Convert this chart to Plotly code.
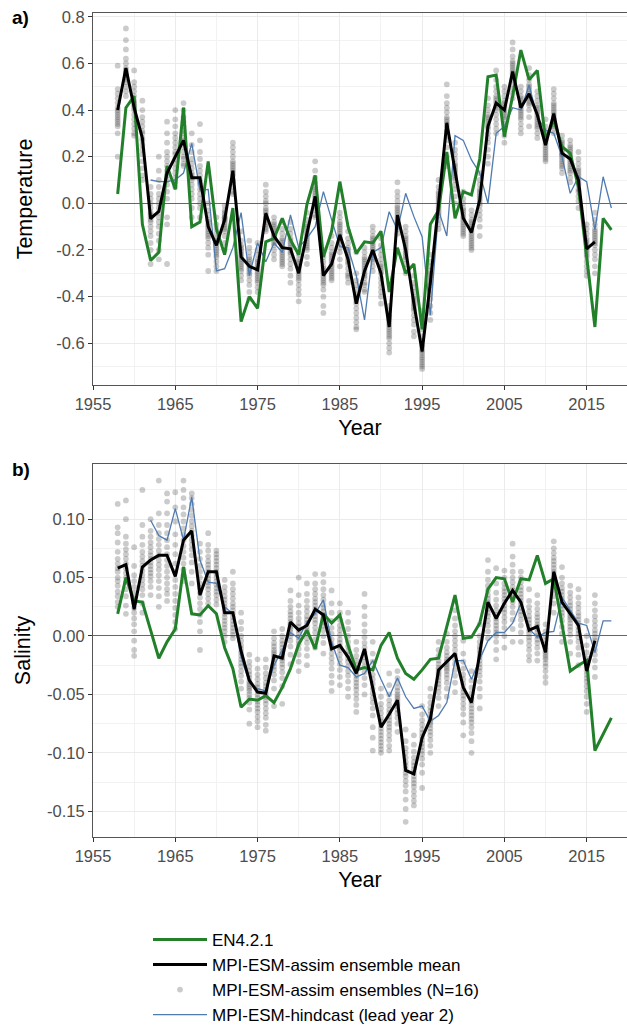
import plotly.graph_objects as go

# ---------------------------------------------------------------- data
years_obs = list(range(1958, 2019))      # EN4.2.1
years_assim = list(range(1958, 2017))    # MPI-ESM-assim
years_hind = list(range(1962, 2019))     # MPI-ESM-hindcast, lead year 2

temp_en4 = [0.04, 0.41, 0.46, -0.09, -0.245, -0.21, 0.16, 0.06, 0.41, -0.10,
            -0.08, 0.18, -0.11, -0.22, -0.02, -0.507, -0.40, -0.45, -0.165, -0.15,
            -0.064, -0.157, -0.22, -0.005, 0.12, -0.23, -0.12, 0.093, -0.10, -0.215,
            -0.165, -0.17, -0.12, -0.38, -0.19, -0.30, -0.26, -0.54, -0.09, -0.03,
            0.22, -0.064, 0.05, 0.036, 0.19, 0.543, 0.55, 0.286, 0.46, 0.657,
            0.53, 0.57, 0.27, 0.36, 0.243, 0.214, 0.07, -0.23, -0.53, -0.064, -0.114]

temp_mean = [0.40, 0.58, 0.41, 0.28, -0.065, -0.035, 0.13, 0.20, 0.27, 0.11,
             0.11, -0.10, -0.18, -0.07, 0.14, -0.23, -0.27, -0.285, -0.043, -0.14,
             -0.19, -0.195, -0.30, -0.13, 0.03, -0.31, -0.26, -0.135, -0.24, -0.43,
             -0.29, -0.20, -0.30, -0.53, -0.05, -0.20, -0.43, -0.635, -0.34, 0.0,
             0.345, 0.14, -0.064, -0.125, 0.014, 0.33, 0.43, 0.40, 0.565, 0.41,
             0.47, 0.38, 0.25, 0.385, 0.215, 0.19, 0.10, -0.195, -0.165]

temp_hind = [0.10, 0.093, 0.093, 0.10, 0.13, 0.257, 0.057, 0.06, -0.29, -0.28,
             -0.19, -0.04, -0.31, -0.17, -0.25, -0.17, -0.21, -0.05, -0.19, -0.15,
             -0.10, 0.05, -0.07, -0.186, -0.19, -0.31, -0.50, -0.21, -0.19, -0.036,
             -0.114, 0.043, -0.057, -0.143, -0.48, -0.03, -0.14, 0.29, 0.27, 0.186,
             0.13, 0.0, 0.30, 0.33, 0.41, 0.40, 0.507, 0.37, 0.314, 0.30,
             0.20, 0.043, 0.114, 0.093, -0.114, 0.114, -0.02]

# 16 ensemble members per year, 1958-2016
temp_members = [
    [0.59, 0.49, 0.47, 0.45, 0.43, 0.41, 0.40, 0.39, 0.38, 0.37, 0.36, 0.35, 0.34, 0.33, 0.30, 0.20],
    [0.75, 0.70, 0.66, 0.62, 0.60, 0.58, 0.57, 0.56, 0.55, 0.54, 0.53, 0.52, 0.50, 0.48, 0.46, 0.55],
    [0.57, 0.52, 0.50, 0.48, 0.46, 0.44, 0.43, 0.42, 0.40, 0.38, 0.36, 0.34, 0.32, 0.30, 0.29, 0.41],
    [0.44, 0.40, 0.37, 0.35, 0.33, 0.31, 0.30, 0.28, 0.27, 0.25, 0.23, 0.21, 0.18, 0.15, 0.12, 0.10],
    [0.07, 0.04, 0.02, 0.00, -0.02, -0.04, -0.05, -0.06, -0.07, -0.08, -0.10, -0.12, -0.14, -0.17, -0.20, -0.26],
    [0.20, 0.14, 0.10, 0.07, 0.04, 0.02, 0.00, -0.02, -0.04, -0.06, -0.08, -0.10, -0.13, -0.16, -0.20, -0.24],
    [0.35, 0.30, 0.26, 0.22, 0.20, 0.18, 0.16, 0.14, 0.12, 0.10, 0.08, 0.05, 0.02, -0.06, -0.09, -0.26],
    [0.40, 0.36, 0.33, 0.30, 0.28, 0.26, 0.24, 0.22, 0.21, 0.19, 0.17, 0.15, 0.13, 0.11, 0.09, 0.07],
    [0.43, 0.40, 0.37, 0.35, 0.33, 0.31, 0.30, 0.28, 0.27, 0.26, 0.24, 0.22, 0.20, 0.19, 0.17, 0.16],
    [0.30, 0.25, 0.22, 0.19, 0.17, 0.15, 0.13, 0.12, 0.11, 0.10, 0.08, 0.06, 0.04, 0.02, -0.02, -0.06],
    [0.34, 0.27, 0.22, 0.19, 0.16, 0.14, 0.12, 0.10, 0.09, 0.08, 0.06, 0.04, 0.02, 0.00, -0.02, -0.06],
    [0.00, -0.03, -0.05, -0.07, -0.08, -0.09, -0.10, -0.11, -0.12, -0.13, -0.14, -0.15, -0.17, -0.19, -0.22, -0.29],
    [-0.06, -0.09, -0.11, -0.13, -0.15, -0.16, -0.17, -0.18, -0.19, -0.20, -0.21, -0.22, -0.23, -0.25, -0.27, -0.29],
    [-0.01, -0.03, -0.04, -0.05, -0.06, -0.06, -0.07, -0.07, -0.08, -0.09, -0.10, -0.11, -0.12, -0.14, -0.17, -0.20],
    [0.26, 0.24, 0.22, 0.20, 0.18, 0.17, 0.16, 0.15, 0.14, 0.13, 0.12, 0.10, 0.09, 0.07, 0.05, 0.04],
    [-0.12, -0.16, -0.18, -0.19, -0.20, -0.21, -0.22, -0.23, -0.24, -0.25, -0.26, -0.27, -0.28, -0.29, -0.31, -0.33],
    [-0.16, -0.19, -0.21, -0.23, -0.24, -0.25, -0.26, -0.27, -0.28, -0.29, -0.30, -0.31, -0.33, -0.35, -0.38, -0.41],
    [-0.17, -0.20, -0.22, -0.24, -0.25, -0.26, -0.27, -0.28, -0.29, -0.30, -0.31, -0.32, -0.33, -0.34, -0.36, -0.38],
    [0.08, 0.05, 0.03, 0.01, 0.00, -0.02, -0.03, -0.04, -0.05, -0.06, -0.07, -0.08, -0.09, -0.10, -0.11, -0.12],
    [-0.06, -0.08, -0.09, -0.10, -0.11, -0.12, -0.13, -0.14, -0.14, -0.15, -0.16, -0.17, -0.18, -0.20, -0.22, -0.24],
    [-0.08, -0.11, -0.13, -0.15, -0.16, -0.17, -0.18, -0.19, -0.20, -0.21, -0.22, -0.23, -0.24, -0.25, -0.26, -0.27],
    [-0.08, -0.11, -0.13, -0.15, -0.16, -0.17, -0.18, -0.19, -0.20, -0.21, -0.22, -0.24, -0.26, -0.28, -0.31, -0.34],
    [-0.20, -0.22, -0.24, -0.25, -0.26, -0.27, -0.28, -0.29, -0.30, -0.31, -0.32, -0.33, -0.35, -0.37, -0.39, -0.42],
    [-0.04, -0.07, -0.09, -0.10, -0.11, -0.12, -0.13, -0.14, -0.15, -0.16, -0.17, -0.18, -0.19, -0.20, -0.23, -0.26],
    [0.18, 0.14, 0.11, 0.09, 0.07, 0.06, 0.05, 0.04, 0.03, 0.02, 0.01, 0.00, -0.01, -0.03, -0.05, -0.06],
    [-0.20, -0.23, -0.25, -0.27, -0.28, -0.29, -0.30, -0.31, -0.32, -0.33, -0.34, -0.35, -0.37, -0.40, -0.44, -0.47],
    [-0.14, -0.17, -0.19, -0.21, -0.22, -0.23, -0.24, -0.25, -0.26, -0.27, -0.28, -0.29, -0.30, -0.31, -0.32, -0.33],
    [-0.04, -0.06, -0.08, -0.09, -0.10, -0.11, -0.12, -0.13, -0.14, -0.15, -0.16, -0.17, -0.19, -0.21, -0.24, -0.27],
    [-0.12, -0.15, -0.17, -0.19, -0.20, -0.21, -0.22, -0.23, -0.24, -0.25, -0.26, -0.28, -0.30, -0.31, -0.32, -0.34],
    [-0.21, -0.30, -0.33, -0.35, -0.37, -0.39, -0.40, -0.41, -0.42, -0.43, -0.45, -0.47, -0.49, -0.51, -0.53, -0.54],
    [-0.19, -0.21, -0.23, -0.24, -0.25, -0.26, -0.27, -0.28, -0.29, -0.30, -0.31, -0.32, -0.34, -0.35, -0.37, -0.38],
    [-0.10, -0.12, -0.14, -0.15, -0.16, -0.17, -0.18, -0.19, -0.20, -0.21, -0.22, -0.23, -0.24, -0.25, -0.27, -0.29],
    [-0.15, -0.18, -0.20, -0.22, -0.24, -0.26, -0.27, -0.28, -0.29, -0.30, -0.32, -0.34, -0.36, -0.38, -0.40, -0.43],
    [-0.44, -0.46, -0.48, -0.49, -0.50, -0.51, -0.52, -0.53, -0.54, -0.55, -0.56, -0.57, -0.58, -0.60, -0.62, -0.64],
    [0.09, 0.05, 0.03, 0.01, -0.01, -0.02, -0.03, -0.04, -0.05, -0.06, -0.07, -0.08, -0.09, -0.10, -0.11, -0.13],
    [-0.10, -0.12, -0.14, -0.15, -0.16, -0.17, -0.18, -0.19, -0.20, -0.21, -0.22, -0.23, -0.24, -0.26, -0.28, -0.30],
    [-0.31, -0.34, -0.36, -0.38, -0.40, -0.41, -0.42, -0.43, -0.44, -0.45, -0.46, -0.48, -0.50, -0.52, -0.55, -0.57],
    [-0.46, -0.50, -0.54, -0.57, -0.59, -0.61, -0.62, -0.63, -0.64, -0.65, -0.66, -0.67, -0.68, -0.69, -0.70, -0.71],
    [-0.22, -0.25, -0.27, -0.29, -0.30, -0.31, -0.32, -0.33, -0.34, -0.35, -0.37, -0.39, -0.41, -0.44, -0.47, -0.50],
    [0.10, 0.07, 0.05, 0.04, 0.03, 0.02, 0.01, 0.00, -0.01, -0.02, -0.03, -0.04, -0.05, -0.07, -0.09, -0.11],
    [0.51, 0.46, 0.43, 0.41, 0.39, 0.37, 0.36, 0.35, 0.34, 0.33, 0.31, 0.29, 0.27, 0.24, 0.20, 0.16],
    [0.26, 0.23, 0.21, 0.19, 0.17, 0.16, 0.15, 0.14, 0.13, 0.12, 0.11, 0.10, 0.08, 0.06, 0.03, 0.00],
    [0.05, 0.02, 0.00, -0.02, -0.03, -0.04, -0.05, -0.06, -0.07, -0.08, -0.09, -0.10, -0.11, -0.12, -0.13, -0.14],
    [-0.03, -0.05, -0.07, -0.08, -0.09, -0.10, -0.11, -0.12, -0.13, -0.14, -0.15, -0.16, -0.17, -0.18, -0.19, -0.20],
    [0.13, 0.10, 0.08, 0.06, 0.05, 0.04, 0.03, 0.02, 0.01, 0.00, -0.01, -0.03, -0.05, -0.07, -0.10, -0.14],
    [0.45, 0.42, 0.40, 0.38, 0.37, 0.36, 0.35, 0.34, 0.33, 0.32, 0.30, 0.28, 0.26, 0.23, 0.20, 0.17],
    [0.57, 0.53, 0.50, 0.48, 0.46, 0.45, 0.44, 0.43, 0.42, 0.41, 0.40, 0.38, 0.36, 0.34, 0.32, 0.30],
    [0.50, 0.48, 0.46, 0.44, 0.43, 0.42, 0.41, 0.40, 0.39, 0.38, 0.37, 0.36, 0.34, 0.32, 0.29, 0.26],
    [0.69, 0.66, 0.63, 0.61, 0.60, 0.59, 0.58, 0.57, 0.56, 0.55, 0.54, 0.53, 0.51, 0.49, 0.47, 0.45],
    [0.50, 0.48, 0.46, 0.45, 0.44, 0.43, 0.42, 0.41, 0.40, 0.39, 0.38, 0.37, 0.36, 0.34, 0.32, 0.30],
    [0.58, 0.55, 0.53, 0.51, 0.50, 0.49, 0.48, 0.47, 0.46, 0.45, 0.44, 0.43, 0.42, 0.40, 0.37, 0.33],
    [0.48, 0.46, 0.44, 0.42, 0.41, 0.40, 0.39, 0.38, 0.37, 0.36, 0.35, 0.34, 0.33, 0.32, 0.30, 0.28],
    [0.36, 0.33, 0.31, 0.30, 0.29, 0.28, 0.27, 0.26, 0.25, 0.24, 0.23, 0.22, 0.21, 0.20, 0.19, 0.18],
    [0.49, 0.47, 0.45, 0.43, 0.42, 0.41, 0.40, 0.39, 0.38, 0.37, 0.36, 0.35, 0.34, 0.33, 0.32, 0.30],
    [0.29, 0.27, 0.26, 0.25, 0.24, 0.23, 0.22, 0.21, 0.21, 0.20, 0.19, 0.18, 0.17, 0.16, 0.15, 0.13],
    [0.27, 0.25, 0.24, 0.23, 0.22, 0.21, 0.20, 0.19, 0.18, 0.17, 0.16, 0.15, 0.14, 0.13, 0.11, 0.09],
    [0.22, 0.19, 0.17, 0.15, 0.14, 0.13, 0.12, 0.11, 0.10, 0.09, 0.08, 0.06, 0.05, 0.03, 0.01, -0.02],
    [-0.09, -0.11, -0.13, -0.15, -0.16, -0.17, -0.18, -0.19, -0.20, -0.21, -0.22, -0.23, -0.25, -0.27, -0.29, -0.31],
    [-0.04, -0.07, -0.09, -0.11, -0.12, -0.13, -0.14, -0.15, -0.16, -0.17, -0.18, -0.20, -0.22, -0.24, -0.27, -0.30],
]

sal_en4 = [0.019, 0.05, 0.03, 0.029, 0.005, -0.019, -0.005, 0.006, 0.059, 0.019,
           0.018, 0.026, 0.019, -0.01, -0.028, -0.061, -0.054, -0.055, -0.051, -0.057,
           -0.044, -0.028, -0.007, 0.005, -0.011, 0.019, 0.011, 0.018, -0.008, -0.029,
           -0.027, -0.029, -0.008, 0.003, -0.019, -0.032, -0.037, -0.029, -0.02, -0.019,
           0.008, 0.035, -0.002, -0.001, 0.011, 0.04, 0.05, 0.049, 0.029, 0.049,
           0.048, 0.069, 0.045, 0.049, 0.01, -0.03, -0.025, -0.021, -0.098, -0.084, -0.07]

sal_mean = [0.058, 0.061, 0.023, 0.059, 0.065, 0.069, 0.069, 0.051, 0.082, 0.090,
            0.035, 0.055, 0.055, 0.020, 0.020, -0.013, -0.038, -0.048, -0.049, -0.017,
            -0.019, 0.012, 0.005, 0.009, 0.023, 0.018, -0.011, -0.008, -0.018, -0.032,
            -0.011, -0.044, -0.078, -0.067, -0.055, -0.115, -0.118, -0.087, -0.071, -0.029,
            -0.022, -0.015, -0.044, -0.057, -0.015, 0.029, 0.015, 0.028, 0.039, 0.029,
            0.005, 0.008, -0.014, 0.055, 0.029, 0.019, 0.009, -0.030, -0.004]

sal_hind = [0.099, 0.086, 0.082, 0.109, 0.082, 0.119, 0.065, 0.046, 0.045, 0.025,
            0.019, -0.018, -0.040, -0.045, -0.047, -0.025, -0.012, 0.003, -0.002, 0.012,
            0.019, 0.031, -0.005, -0.025, -0.027, -0.035, -0.032, -0.021, -0.037, -0.052,
            -0.036, -0.052, -0.062, -0.060, -0.073, -0.068, -0.057, -0.021, -0.021, -0.037,
            -0.02, -0.004, 0.003, 0.003, 0.011, 0.028, 0.006, -0.001, 0.003, 0.004,
            0.033, 0.022, 0.011, 0.009, -0.014, 0.013, 0.013]

sal_members = [
    [0.113, 0.093, 0.088, 0.080, 0.072, 0.066, 0.062, 0.058, 0.055, 0.050, 0.047, 0.043, 0.038, 0.034, 0.029, 0.025],
    [0.116, 0.100, 0.085, 0.079, 0.074, 0.070, 0.066, 0.062, 0.058, 0.054, 0.050, 0.046, 0.040, 0.034, 0.026, 0.019],
    [0.076, 0.060, 0.052, 0.047, 0.042, 0.037, 0.032, 0.028, 0.024, 0.020, 0.015, 0.010, 0.004, -0.004, -0.012, -0.017],
    [0.125, 0.095, 0.085, 0.078, 0.072, 0.068, 0.064, 0.060, 0.056, 0.052, 0.048, 0.044, 0.040, 0.035, 0.028, 0.020],
    [0.100, 0.090, 0.085, 0.080, 0.076, 0.072, 0.069, 0.066, 0.063, 0.060, 0.057, 0.054, 0.051, 0.047, 0.042, 0.035],
    [0.133, 0.105, 0.095, 0.088, 0.083, 0.078, 0.073, 0.069, 0.065, 0.061, 0.057, 0.052, 0.047, 0.041, 0.034, 0.025],
    [0.122, 0.115, 0.105, 0.095, 0.088, 0.082, 0.076, 0.070, 0.065, 0.060, 0.055, 0.050, 0.045, 0.040, 0.036, 0.030],
    [0.123, 0.110, 0.098, 0.087, 0.078, 0.070, 0.062, 0.055, 0.048, 0.042, 0.036, 0.030, 0.024, 0.018, 0.012, 0.006],
    [0.133, 0.125, 0.118, 0.110, 0.104, 0.098, 0.092, 0.087, 0.082, 0.077, 0.072, 0.067, 0.062, 0.057, 0.052, 0.047],
    [0.122, 0.118, 0.113, 0.108, 0.103, 0.098, 0.094, 0.090, 0.086, 0.082, 0.078, 0.074, 0.069, 0.063, 0.055, 0.045],
    [0.079, 0.072, 0.066, 0.060, 0.055, 0.050, 0.045, 0.041, 0.037, 0.033, 0.028, 0.023, 0.018, 0.012, 0.004, -0.012],
    [0.088, 0.078, 0.073, 0.068, 0.064, 0.061, 0.058, 0.055, 0.052, 0.049, 0.046, 0.043, 0.040, 0.036, 0.032, 0.028],
    [0.073, 0.070, 0.067, 0.064, 0.061, 0.058, 0.055, 0.053, 0.050, 0.047, 0.044, 0.041, 0.038, 0.035, 0.031, 0.027],
    [0.048, 0.042, 0.038, 0.034, 0.031, 0.028, 0.025, 0.022, 0.019, 0.016, 0.013, 0.010, 0.007, 0.004, 0.000, -0.005],
    [0.055, 0.045, 0.040, 0.036, 0.032, 0.028, 0.025, 0.022, 0.019, 0.016, 0.013, 0.010, 0.007, 0.004, 0.001, -0.002],
    [0.020, 0.012, 0.006, 0.000, -0.004, -0.008, -0.011, -0.014, -0.017, -0.020, -0.023, -0.026, -0.030, -0.034, -0.039, -0.045],
    [-0.016, -0.022, -0.026, -0.030, -0.033, -0.036, -0.039, -0.041, -0.043, -0.045, -0.047, -0.050, -0.053, -0.057, -0.063, -0.075],
    [-0.020, -0.028, -0.033, -0.037, -0.041, -0.044, -0.047, -0.050, -0.053, -0.056, -0.059, -0.062, -0.065, -0.069, -0.073, -0.078],
    [-0.020, -0.027, -0.032, -0.036, -0.040, -0.043, -0.046, -0.049, -0.052, -0.055, -0.058, -0.062, -0.066, -0.070, -0.076, -0.081],
    [0.004, -0.002, -0.006, -0.009, -0.012, -0.014, -0.016, -0.018, -0.020, -0.023, -0.026, -0.029, -0.033, -0.038, -0.045, -0.060],
    [0.006, 0.000, -0.004, -0.007, -0.010, -0.013, -0.015, -0.017, -0.019, -0.021, -0.024, -0.027, -0.031, -0.036, -0.043, -0.058],
    [0.039, 0.030, 0.025, 0.021, 0.018, 0.015, 0.012, 0.010, 0.008, 0.006, 0.003, 0.000, -0.004, -0.009, -0.016, -0.024],
    [0.050, 0.035, 0.026, 0.020, 0.015, 0.011, 0.008, 0.005, 0.002, -0.001, -0.004, -0.007, -0.011, -0.016, -0.022, -0.030],
    [0.045, 0.036, 0.030, 0.025, 0.021, 0.017, 0.014, 0.011, 0.008, 0.005, 0.002, -0.002, -0.006, -0.011, -0.017, -0.025],
    [0.053, 0.045, 0.040, 0.036, 0.032, 0.029, 0.026, 0.023, 0.020, 0.017, 0.014, 0.011, 0.007, 0.003, -0.003, -0.010],
    [0.053, 0.046, 0.040, 0.035, 0.031, 0.027, 0.024, 0.021, 0.018, 0.015, 0.012, 0.009, 0.005, 0.000, -0.006, -0.015],
    [0.039, 0.028, 0.020, 0.013, 0.007, 0.002, -0.003, -0.007, -0.011, -0.015, -0.019, -0.023, -0.028, -0.034, -0.040, -0.047],
    [0.028, 0.020, 0.014, 0.009, 0.005, 0.001, -0.003, -0.006, -0.009, -0.012, -0.016, -0.020, -0.024, -0.029, -0.035, -0.042],
    [0.020, 0.012, 0.006, 0.000, -0.005, -0.009, -0.013, -0.016, -0.019, -0.022, -0.026, -0.030, -0.034, -0.039, -0.045, -0.052],
    [-0.005, -0.012, -0.017, -0.021, -0.025, -0.028, -0.031, -0.034, -0.037, -0.040, -0.043, -0.046, -0.050, -0.054, -0.059, -0.065],
    [0.036, 0.025, 0.017, 0.010, 0.004, -0.001, -0.006, -0.010, -0.014, -0.018, -0.022, -0.026, -0.031, -0.036, -0.042, -0.050],
    [-0.005, -0.015, -0.022, -0.028, -0.033, -0.037, -0.041, -0.045, -0.049, -0.053, -0.057, -0.062, -0.068, -0.078, -0.087, -0.098],
    [-0.045, -0.052, -0.058, -0.062, -0.066, -0.070, -0.073, -0.076, -0.079, -0.082, -0.085, -0.088, -0.091, -0.094, -0.097, -0.100],
    [-0.032, -0.042, -0.050, -0.055, -0.059, -0.063, -0.066, -0.069, -0.072, -0.075, -0.078, -0.081, -0.085, -0.089, -0.094, -0.098],
    [-0.030, -0.036, -0.040, -0.044, -0.047, -0.050, -0.052, -0.054, -0.056, -0.058, -0.060, -0.063, -0.066, -0.070, -0.075, -0.082],
    [-0.080, -0.090, -0.096, -0.100, -0.104, -0.108, -0.111, -0.114, -0.117, -0.120, -0.124, -0.128, -0.133, -0.140, -0.148, -0.159],
    [-0.085, -0.093, -0.099, -0.104, -0.108, -0.111, -0.114, -0.117, -0.120, -0.123, -0.126, -0.129, -0.133, -0.137, -0.141, -0.145],
    [-0.060, -0.067, -0.072, -0.076, -0.080, -0.083, -0.086, -0.089, -0.092, -0.095, -0.098, -0.101, -0.105, -0.110, -0.117, -0.130],
    [-0.045, -0.052, -0.057, -0.061, -0.064, -0.067, -0.070, -0.072, -0.074, -0.076, -0.079, -0.082, -0.085, -0.089, -0.094, -0.100],
    [-0.005, -0.012, -0.017, -0.021, -0.024, -0.027, -0.029, -0.031, -0.033, -0.035, -0.038, -0.041, -0.044, -0.048, -0.053, -0.060],
    [0.002, -0.005, -0.010, -0.014, -0.017, -0.020, -0.022, -0.024, -0.026, -0.028, -0.030, -0.033, -0.036, -0.040, -0.045, -0.052],
    [0.030, 0.022, 0.015, 0.009, 0.004, 0.000, -0.004, -0.008, -0.012, -0.016, -0.020, -0.024, -0.029, -0.034, -0.040, -0.048],
    [-0.004, -0.015, -0.022, -0.028, -0.033, -0.037, -0.041, -0.045, -0.048, -0.051, -0.054, -0.058, -0.062, -0.067, -0.074, -0.085],
    [-0.030, -0.038, -0.044, -0.049, -0.053, -0.056, -0.059, -0.062, -0.065, -0.068, -0.071, -0.074, -0.078, -0.083, -0.090, -0.100],
    [0.010, 0.000, -0.005, -0.009, -0.012, -0.015, -0.018, -0.021, -0.024, -0.027, -0.030, -0.034, -0.039, -0.045, -0.052, -0.062],
    [0.065, 0.055, 0.048, 0.043, 0.039, 0.035, 0.032, 0.029, 0.026, 0.023, 0.020, 0.017, 0.013, 0.009, 0.004, -0.002],
    [0.058, 0.045, 0.037, 0.031, 0.026, 0.022, 0.018, 0.015, 0.012, 0.009, 0.006, 0.003, 0.000, -0.005, -0.012, -0.020],
    [0.056, 0.050, 0.045, 0.041, 0.038, 0.035, 0.032, 0.029, 0.026, 0.023, 0.020, 0.016, 0.012, 0.007, 0.000, -0.010],
    [0.079, 0.068, 0.061, 0.055, 0.050, 0.046, 0.042, 0.039, 0.036, 0.033, 0.029, 0.025, 0.020, 0.014, 0.006, -0.005],
    [0.055, 0.050, 0.046, 0.042, 0.039, 0.036, 0.033, 0.030, 0.027, 0.024, 0.021, 0.018, 0.014, 0.009, 0.003, -0.005],
    [0.040, 0.030, 0.025, 0.021, 0.017, 0.014, 0.011, 0.008, 0.005, 0.002, -0.001, -0.004, -0.008, -0.012, -0.017, -0.021],
    [0.035, 0.028, 0.023, 0.019, 0.016, 0.013, 0.010, 0.008, 0.006, 0.003, 0.000, -0.003, -0.006, -0.010, -0.015, -0.021],
    [0.010, 0.004, 0.000, -0.004, -0.007, -0.010, -0.012, -0.014, -0.016, -0.018, -0.020, -0.023, -0.026, -0.030, -0.035, -0.040],
    [0.081, 0.075, 0.071, 0.067, 0.064, 0.061, 0.058, 0.055, 0.052, 0.049, 0.046, 0.043, 0.039, 0.034, 0.028, 0.020],
    [0.059, 0.050, 0.045, 0.041, 0.038, 0.035, 0.032, 0.029, 0.026, 0.023, 0.020, 0.017, 0.013, 0.008, 0.002, -0.005],
    [0.043, 0.037, 0.033, 0.029, 0.026, 0.023, 0.020, 0.018, 0.016, 0.014, 0.011, 0.008, 0.005, 0.001, -0.005, -0.015],
    [0.040, 0.033, 0.028, 0.024, 0.020, 0.017, 0.014, 0.011, 0.008, 0.005, 0.002, -0.001, -0.005, -0.010, -0.016, -0.025],
    [0.013, 0.000, -0.008, -0.014, -0.019, -0.023, -0.027, -0.030, -0.033, -0.036, -0.039, -0.043, -0.047, -0.052, -0.058, -0.065],
    [0.035, 0.028, 0.022, 0.017, 0.013, 0.009, 0.005, 0.002, -0.001, -0.004, -0.008, -0.012, -0.016, -0.021, -0.027, -0.035],
]

x_ticks = [1955, 1965, 1975, 1985, 1995, 2005, 2015]
temp_ticks = [0.8, 0.6, 0.4, 0.2, 0.0, -0.2, -0.4, -0.6]
sal_ticks = [0.10, 0.05, 0.00, -0.05, -0.10, -0.15]

# ---------------------------------------------------------------- styling
GREEN = "#22802a"
BLACK = "#000000"
BLUE = "#4f7bb0"
DOT = "rgba(70,70,70,0.28)"
FONT = "Liberation Sans, Arial, sans-serif"
TICK_FONT = dict(family=FONT, size=16.5, color="#4d4d4d")
TITLE_FONT = dict(family=FONT, size=21.5, color="#000000")
GRID = "#ebebeb"
MINOR_GRID = "#f2f2f2"


def flat_members(members):
    xs, ys = [], []
    for yr, row in zip(years_assim, members):
        xs.extend([yr] * len(row))
        ys.extend(row)
    return xs, ys


def label(v, nd):
    s = f"{v:.{nd}f}"
    return "0." + "0" * nd if s.startswith("-0.") and float(s) == 0 else s


fig = go.Figure()

panels = [
    ("x", "y", temp_members, temp_hind, temp_en4, temp_mean, True),
    ("x2", "y2", sal_members, sal_hind, sal_en4, sal_mean, False),
]
for xa, ya, members, hind, en4, mean, show in panels:
    mx, my = flat_members(members)
    fig.add_trace(go.Scatter(
        x=mx, y=my, mode="markers", xaxis=xa, yaxis=ya,
        marker=dict(size=5.8, color=DOT, line=dict(width=0)),
        name="MPI-ESM-assim ensembles (N=16)", legendrank=3, showlegend=show))
    fig.add_trace(go.Scatter(
        x=years_hind, y=hind, mode="lines", xaxis=xa, yaxis=ya,
        line=dict(color=BLUE, width=1.3),
        name="MPI-ESM-hindcast (lead year 2)", legendrank=4, showlegend=show))
    fig.add_trace(go.Scatter(
        x=years_obs, y=en4, mode="lines", xaxis=xa, yaxis=ya,
        line=dict(color=GREEN, width=3),
        name="EN4.2.1", legendrank=1, showlegend=show))
    fig.add_trace(go.Scatter(
        x=years_assim, y=mean, mode="lines", xaxis=xa, yaxis=ya,
        line=dict(color=BLACK, width=3),
        name="MPI-ESM-assim ensemble mean", legendrank=2, showlegend=show))

x_common = dict(
    range=[1955, 2019.9], tickvals=x_ticks, ticktext=[str(t) for t in x_ticks],
    showgrid=True, gridcolor=GRID, gridwidth=1.1,
    minor=dict(showgrid=True, gridcolor=MINOR_GRID, gridwidth=0.8, dtick=5, tick0=1955),
    showline=True, linecolor="#555555", linewidth=1.2, mirror=True,
    ticks="outside", ticklen=4, tickcolor="#333333", tickfont=TICK_FONT,
    ticklabelstandoff=0, zeroline=False,
    title=dict(text="Year", font=TITLE_FONT, standoff=8),
)
y_common = dict(
    showgrid=True, gridcolor=GRID, gridwidth=1.1,
    showline=True, linecolor="#555555", linewidth=1.2, mirror=True,
    ticks="outside", ticklen=4, tickcolor="#333333", tickfont=TICK_FONT,
    zeroline=True, zerolinecolor="#666666", zerolinewidth=1.2,
)

fig.update_layout(
    width=627, height=1026,
    margin=dict(l=93, r=0, t=13, b=189, autoexpand=False),
    paper_bgcolor="white", plot_bgcolor="white",
    font=dict(family=FONT, color="#000000"),
    xaxis=dict(**x_common, anchor="y"),
    xaxis2=dict(**x_common, anchor="y2"),
    yaxis=dict(**y_common, domain=[0.5485, 1.0], range=[-0.779, 0.816],
               tickvals=temp_ticks, ticktext=[label(v, 1) for v in temp_ticks],
               minor=dict(showgrid=True, gridcolor=MINOR_GRID, gridwidth=0.8, dtick=0.1, tick0=0),
               title=dict(text="Temperature", font=TITLE_FONT, standoff=17)),
    yaxis2=dict(**y_common, domain=[0.0, 0.4527], range=[-0.172, 0.1472],
                tickvals=sal_ticks, ticktext=[label(v, 2) for v in sal_ticks],
                minor=dict(showgrid=True, gridcolor=MINOR_GRID, gridwidth=0.8, dtick=0.025, tick0=0),
                title=dict(text="Salinity", font=TITLE_FONT, standoff=10)),
    legend=dict(
        x=0.103, y=-0.103, xanchor="left", yanchor="top",
        font=dict(family=FONT, size=17, color="#000000"),
        bgcolor="rgba(0,0,0,0)", itemwidth=54, tracegroupgap=0,
    ),
    annotations=[
        dict(text="<b>a)</b>", x=-0.155, y=0.994, xref="paper", yref="paper",
             xanchor="left", yanchor="middle", showarrow=False,
             font=dict(family=FONT, size=19, color="#000000")),
        dict(text="<b>b)</b>", x=-0.155, y=0.446, xref="paper", yref="paper",
             xanchor="left", yanchor="middle", showarrow=False,
             font=dict(family=FONT, size=19, color="#000000")),
    ],
)

fig.write_html("out.html")
